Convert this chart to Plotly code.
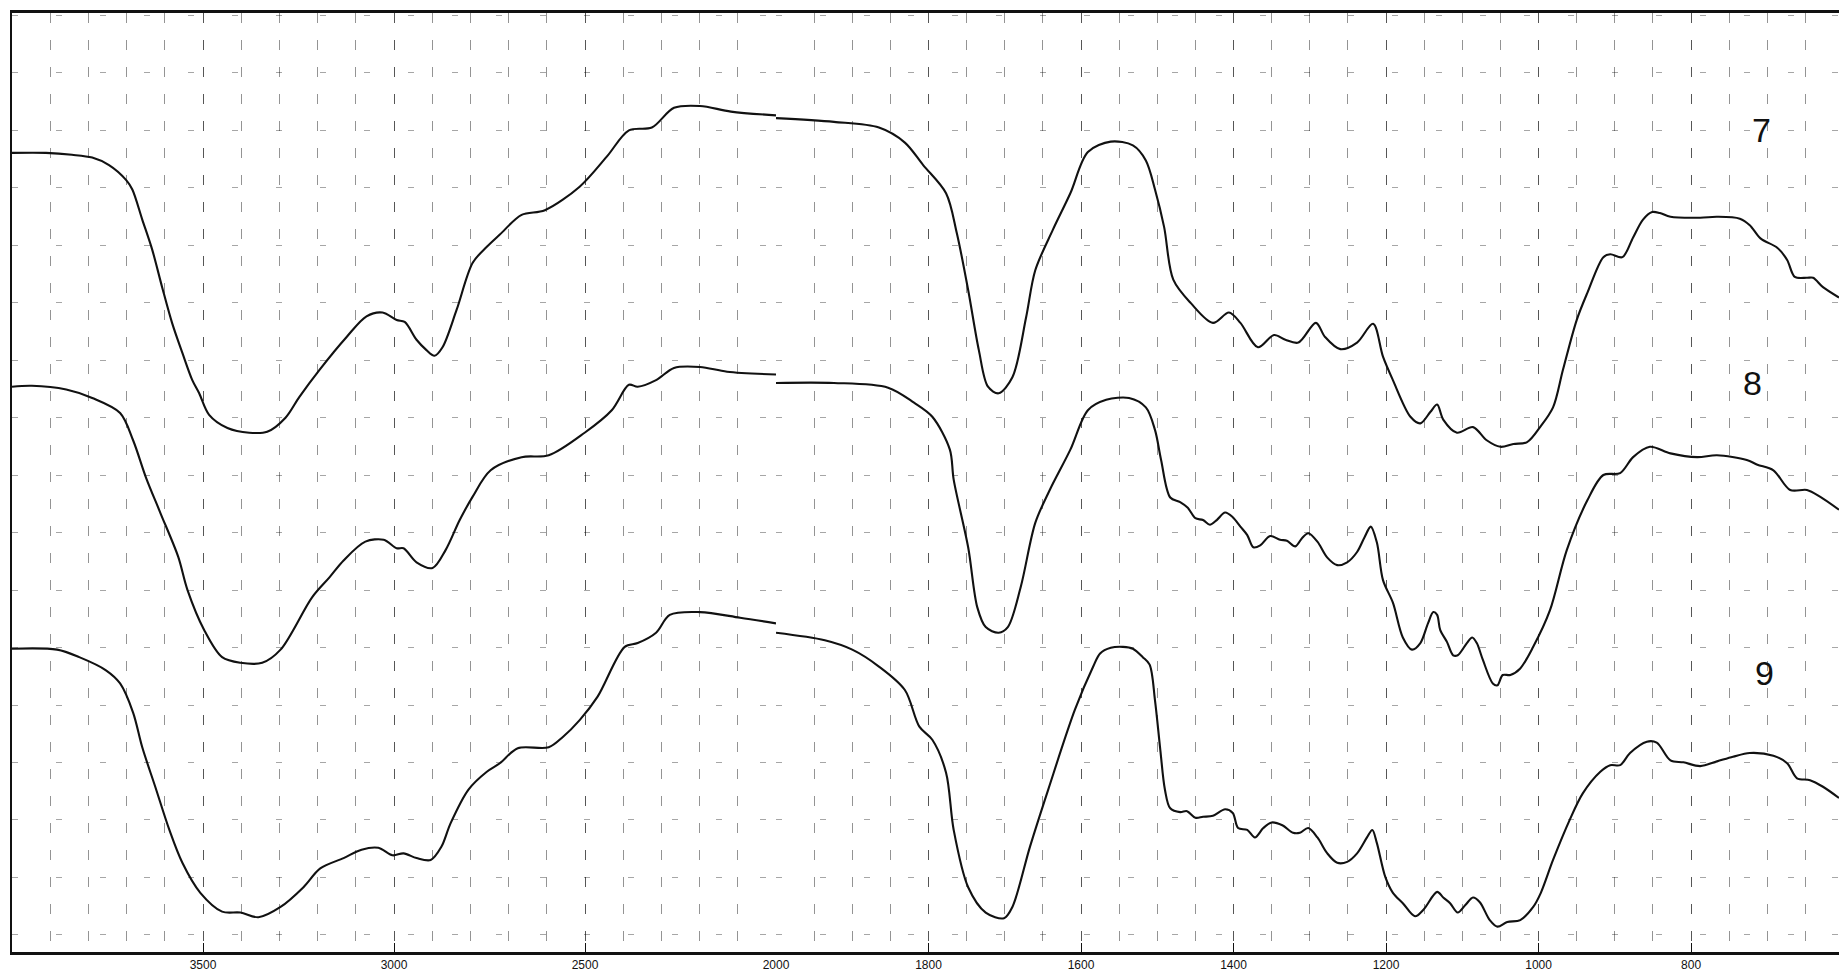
import plotly.graph_objects as go

# ---- data (wavenumber cm-1, transmittance-like units 0..100) ----
# high-wavenumber part (4000-2000, compressed scale)
w7_hi = [4000,3911,3843,3790,3746,3701,3685,3659,3633,3607,3581,3554,3528,3510,3484,3436,3379,3332,3284,3248,
         3195,3124,3072,3030,2993,2972,2941,2915,2894,2873,2836,2794,2757,2723,2666,2605,2514,2443,2385,2325,
         2267,2199,2118,2000]
t7_hi = [85.1,85.1,84.9,84.6,83.8,82.2,81.2,78.0,74.8,70.8,67.0,63.8,60.9,59.5,57.2,55.8,55.3,55.4,56.9,59.1,
         62.0,65.5,67.7,68.1,67.3,67.1,65.2,64.1,63.5,64.4,68.4,73.4,75.1,76.4,78.5,79.0,81.5,84.7,87.5,87.8,
         89.9,90.1,89.5,89.1]
w8_hi = [4000,3948,3858,3790,3717,3683,3649,3612,3565,3541,3497,3450,3402,3345,3297,3214,3169,3132,3075,3027,
         2993,2975,2941,2899,2865,2828,2794,2747,2666,2595,2501,2430,2385,2362,2314,2267,2199,2128,2000]
t8_hi = [60.2,60.3,59.9,59.0,57.4,54.5,50.5,46.8,42.1,38.6,34.3,31.4,30.8,30.8,32.2,37.8,39.9,41.7,43.7,43.9,
         43.0,43.0,41.5,40.9,42.8,46.0,48.5,51.3,52.7,52.9,55.3,57.7,60.4,60.2,60.9,62.2,62.3,61.8,61.5]
w9_hi = [4000,3882,3824,3754,3717,3683,3659,3625,3588,3554,3507,3450,3402,3355,3297,3237,3193,3132,3085,3041,
         3004,2975,2941,2904,2876,2852,2805,2757,2723,2676,2595,2558,2514,2467,2396,2362,2314,2278,2199,2094,2000]
t9_hi = [32.3,32.2,31.4,30.0,28.6,25.5,21.8,17.6,13.0,9.5,6.3,4.3,4.2,3.7,4.8,6.9,8.9,10.0,10.9,11.1,
         10.3,10.5,10.0,9.8,11.2,13.7,17.3,19.2,20.1,21.7,21.8,22.9,24.7,27.2,32.5,32.9,34.0,35.9,36.2,35.6,35.0]

# low-wavenumber part (2000-600, expanded scale)
w7_lo = [2000,1924,1865,1831,1807,1777,1763,1748,1734,1722,1708,1690,1672,1660,1637,1614,1591,1561,1532,1515,
         1503,1491,1479,1456,1427,1406,1391,1368,1347,1332,1315,1292,1280,1260,1238,1217,1204,1191,1168,1155,
         1142,1133,1125,1107,1086,1068,1050,1033,1015,998,981,968,950,936,915,906,890,876,863,851,
         841,827,788,766,736,723,709,687,674,664,648,640,627,606]
t7_lo = [88.8,88.4,87.8,86.2,83.8,80.8,76.6,70.5,64.1,60.2,59.5,61.2,67.6,72.6,76.9,80.8,85.2,86.3,85.9,84.3,
         81.2,77.2,71.6,69.1,67.0,68.1,67.0,64.4,65.7,65.2,64.9,67.0,65.5,64.2,64.9,66.9,63.4,60.9,57.0,56.3,
         57.5,58.3,56.7,55.3,55.9,54.5,53.8,54.1,54.3,55.9,58.0,62.0,67.3,70.2,74.0,74.3,74.0,76.1,78.0,78.8,
         78.7,78.3,78.2,78.3,78.1,77.4,76.0,75.0,73.7,71.9,71.8,71.8,70.8,69.7]
w8_lo = [2000,1924,1853,1819,1795,1772,1767,1748,1736,1725,1708,1696,1679,1660,1641,1614,1591,1567,1537,1515,
         1503,1495,1483,1470,1460,1450,1440,1431,1422,1411,1401,1391,1382,1374,1365,1352,1339,1330,1319,1310,
         1302,1290,1277,1264,1251,1238,1228,1220,1212,1204,1191,1178,1166,1155,1145,1138,1133,1129,1120,1112,
         1106,1094,1087,1081,1073,1060,1054,1047,1037,1024,1007,985,963,936,915,893,876,854,827,792,
         766,727,713,692,670,648,631,606]
t8_lo = [60.6,60.6,60.1,58.5,57.0,53.5,50.3,43.1,36.7,34.6,34.0,34.6,38.9,45.7,49.2,53.5,57.7,58.8,59.0,58.0,
         55.6,52.4,48.4,47.9,47.3,46.2,46.0,45.5,46.0,46.8,46.3,45.3,44.4,43.1,43.3,44.3,43.9,43.8,43.2,44.1,
         44.6,43.7,42.0,41.2,41.5,42.6,44.2,45.3,43.6,39.6,37.2,33.5,32.2,32.9,35.0,36.2,35.9,34.3,33.0,31.6,
         31.6,32.9,33.5,32.9,31.1,28.6,28.4,29.5,29.5,30.2,32.5,36.4,42.8,48.1,50.8,51.0,52.7,53.8,53.1,52.7,
         52.9,52.4,51.9,51.3,49.2,49.2,48.5,47.1]
w9_lo = [2000,1936,1900,1865,1831,1812,1795,1777,1767,1748,1725,1701,1690,1667,1643,1608,1584,1575,1561,1545,
         1532,1519,1510,1503,1496,1490,1483,1470,1461,1450,1440,1427,1411,1401,1394,1382,1372,1361,1350,1336,
         1322,1313,1302,1290,1277,1264,1251,1238,1225,1218,1212,1201,1191,1178,1162,1151,1133,1125,1116,1106,
         1096,1086,1077,1064,1054,1041,1024,1007,997,981,959,942,919,906,893,880,858,845,827,810,
         788,766,745,723,692,674,661,644,627,606]
t9_lo = [34.0,33.2,32.2,30.4,27.9,24.0,22.6,19.1,13.0,6.9,4.2,3.6,4.8,11.2,17.3,25.8,30.4,31.8,32.4,32.5,
         32.3,31.4,30.6,26.8,21.5,17.3,15.3,14.9,15.0,14.3,14.4,14.5,15.2,14.8,13.2,13.0,12.2,13.2,13.8,13.5,
         12.7,12.7,13.2,12.2,10.5,9.5,9.6,10.5,12.2,13.0,11.6,8.0,6.3,5.2,3.8,4.5,6.4,5.8,5.2,4.2,
         5.0,5.8,5.3,3.4,2.7,3.2,3.4,4.8,6.3,9.8,14.1,16.9,19.2,19.9,19.9,21.2,22.4,22.3,20.4,20.2,
         19.8,20.3,20.8,21.2,20.9,20.1,18.5,18.3,17.6,16.4]

hi_ticks = [3500, 3000, 2500]
lo_ticks = [2000, 1800, 1600, 1400, 1200, 1000, 800]
curve_names = ["7", "8", "9"]

# ---- figure ----
line_style = dict(color="#111111", width=2.1, shape="spline", smoothing=0.9)
fig = go.Figure()
for name, wh, th, wl, tl in [("7", w7_hi, t7_hi, w7_lo, t7_lo),
                              ("8", w8_hi, t8_hi, w8_lo, t8_lo),
                              ("9", w9_hi, t9_hi, w9_lo, t9_lo)]:
    fig.add_trace(go.Scatter(x=wh, y=th, mode="lines", line=line_style, xaxis="x", yaxis="y",
                             showlegend=False, hoverinfo="skip", name=name))
    fig.add_trace(go.Scatter(x=wl, y=tl, mode="lines", line=line_style, xaxis="x2", yaxis="y",
                             showlegend=False, hoverinfo="skip", name=name))

grid_col = "rgba(0,0,0,0.42)"
grid_dash = "10px,17px"
split = 764 / 1827

axis_common = dict(
    showline=True, linecolor="#111111", linewidth=2.5, mirror=True,
    ticks="inside", ticklen=9, tickcolor="#111111", tickwidth=1,
    tickfont=dict(family="Liberation Sans", size=12, color="#111111"),
    showgrid=True, gridcolor=grid_col, gridwidth=1, griddash=grid_dash,
    zeroline=False, anchor="y",
)
fig.update_layout(
    width=1839, height=974,
    margin=dict(l=12, r=0, t=13, b=22),
    paper_bgcolor="white", plot_bgcolor="white",
    xaxis=dict(domain=[0, split], range=[4000, 2000], tickmode="array",
               tickvals=hi_ticks, ticktext=[str(v) for v in hi_ticks],
               minor=dict(tickmode="linear", tick0=4000, dtick=100, showgrid=True,
                          gridcolor=grid_col, gridwidth=1, griddash=grid_dash, ticks=""),
               **axis_common),
    xaxis2=dict(domain=[split, 1], range=[2000, 606], tickmode="array",
                tickvals=lo_ticks, ticktext=[str(v) for v in lo_ticks],
                minor=dict(tickmode="linear", tick0=2000, dtick=50, showgrid=True,
                           gridcolor=grid_col, gridwidth=1, griddash=grid_dash, ticks=""),
                **axis_common),
    yaxis=dict(range=[0, 100], showline=True, linecolor="#111111", linewidth=1.5,
               showticklabels=False, ticks="", zeroline=False,
               tickmode="linear", tick0=87.5, dtick=6.12,
               showgrid=True, gridcolor="rgba(0,0,0,0.35)", gridwidth=1, griddash="6px,38px"),
)

label_pos = {"7": (707, 87.5), "8": (719, 60.6), "9": (704, 29.7)}
for name in curve_names:
    x, y = label_pos[name]
    fig.add_annotation(x=x, y=y, xref="x2", yref="y", text=name, showarrow=False,
                       font=dict(family="Liberation Sans", size=34, color="#111111"))

fig.write_html("out.html", config={"displayModeBar": False},
               post_script="document.body.style.margin='0';document.body.style.overflow='hidden';")
